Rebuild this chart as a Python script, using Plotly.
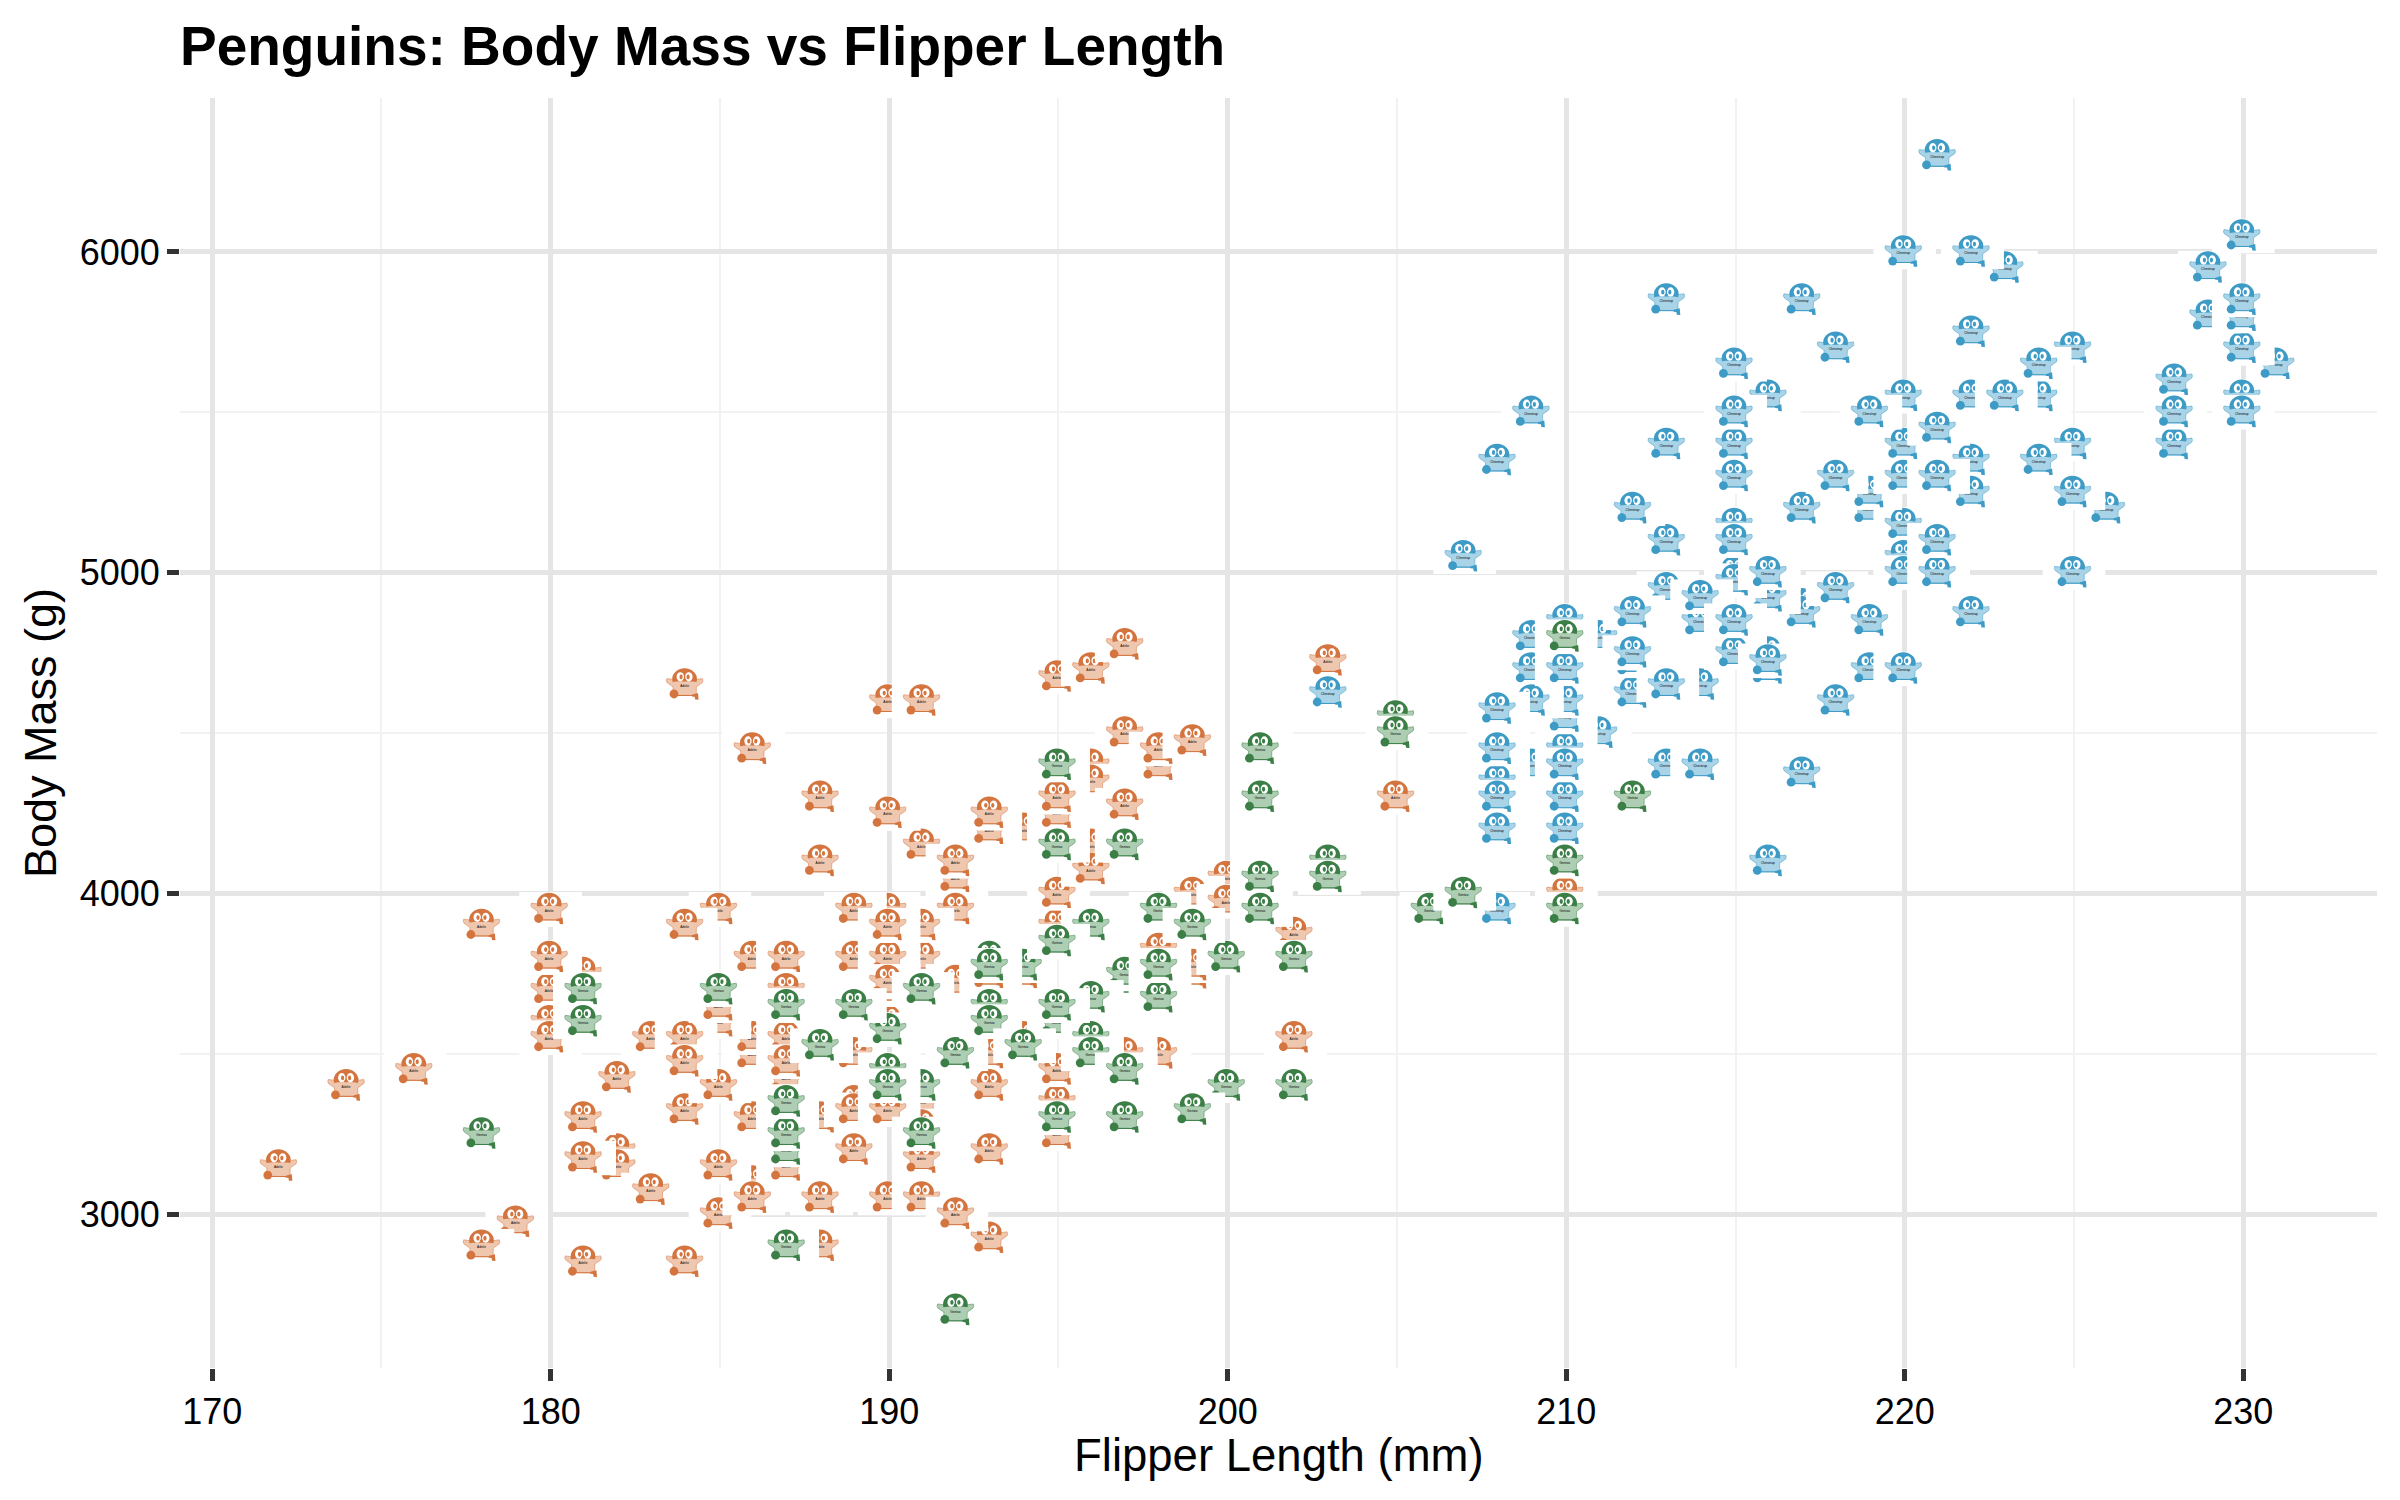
import base64
import plotly.graph_objects as go

adelie_flipper = [181,186,195,193,190,181,195,193,190,186,180,182,191,198,185,195,197,184,194,174,180,189,185,180,187,183,187,172,180,178,178,188,184,195,196,190,180,181,184,182,195,186,196,185,190,182,179,190,191,186,188,190,200,187,191,186,193,181,194,185,195,185,192,184,192,195,188,190,198,190,190,196,197,190,195,191,184,187,195,189,196,187,193,191,194,190,189,189,190,202,205,185,186,187,208,190,196,178,192,192,203,183,190,193,184,199,190,181,197,198,191,193,197,191,196,188,199,189,189,187,198,176,202,186,199,191,195,191,210,190,197,193,199,187,190,191,200,185,193,193,187,188,190,192,185,190,184,195,193,187,201]
adelie_mass = [3750,3800,3250,3450,3650,3625,4675,3475,4250,3300,3700,3200,3800,4400,3700,3450,4500,3325,4200,3400,3600,3800,3950,3800,3800,3550,3200,3150,3950,3250,3900,3300,3900,3325,4150,3950,3550,3300,4650,3150,3900,3100,4400,3000,4600,3425,2975,3450,4150,3500,4300,3450,4050,2900,3700,3550,3800,2850,3750,3150,4400,3600,4050,2850,3950,3350,4100,3050,4450,3600,3900,3550,4150,3700,4250,3700,3900,3550,4000,3200,4700,3800,4200,3350,3550,3800,3500,3950,3600,3550,4300,3400,4450,3300,4300,3700,4350,2900,4100,3725,4725,3075,4250,2925,3550,3750,3900,3175,4775,3825,4600,3200,4275,3900,4075,2900,3775,3350,3325,3150,3500,3450,3875,3050,4000,3275,4300,3050,4000,3325,3500,3500,4475,3425,3900,3175,3975,3400,4250,3400,3475,3050,3725,3000,3650,4250,3475,3450,3750,3700,4000]

chinstrap_flipper = [211,230,210,218,215,210,211,219,209,215,214,216,214,213,210,217,210,221,209,222,218,215,213,215,215,215,216,215,210,220,222,209,207,230,220,220,213,219,208,208,208,225,210,216,222,217,210,225,213,215,210,220,210,225,217,220,208,220,208,224,208,221,214,231,219,230,214,229,220,223,216,221,221,217,216,230,209,220,215,223,212,221,212,224,212,228,218,218,212,230,218,228,212,224,214,226,216,222,203,225,219,228,215,228,216,215,210,219,208,209,216,229,213,230,217,230,222,214,215,222,212,213]
chinstrap_mass = [4500,5700,4450,5700,5400,4550,4800,5200,4400,5150,4650,5550,4650,5850,4200,5850,4150,6300,4800,5350,5700,5000,4400,5050,5000,5100,4100,5650,4600,5550,5250,4700,5050,6050,5150,5400,4950,5250,4350,5350,3950,5700,4300,4750,5550,4900,4200,5400,5100,5300,4850,5300,4400,5000,4875,5050,4300,5000,4450,5550,4200,5300,4400,5650,4700,5700,4650,5800,4700,5550,4750,5000,5100,5200,4700,5800,4600,6000,4750,5950,4625,5450,4725,5350,4750,5600,4600,5300,4875,5550,4950,5400,4750,5650,4850,5200,4925,4875,4625,5250,4850,5600,4975,5500,4725,5500,4700,5500,4575,5500,5000,5950,4650,5500,4375,5850,6000,4925,4850,5750,5200,5400]

gentoo_flipper = [192,196,193,188,197,198,178,197,195,198,193,194,185,201,190,201,197,181,190,195,181,191,187,193,195,197,200,200,191,205,187,201,187,203,195,199,195,210,192,205,210,187,196,196,196,201,190,212,187,198,199,201,193,203,187,197,191,203,202,194,206,189,195,207,202,193,210,198]
gentoo_mass = [3500,3900,3650,3525,3725,3950,3250,3750,4150,3700,3800,3775,3700,4050,3575,4050,3300,3700,3450,4400,3600,3400,2900,3800,3300,4150,3400,3800,3700,4550,3200,4300,3350,4100,3600,3900,3850,4800,2700,4500,3950,3650,3550,3500,3675,4450,3400,4300,3250,3675,3325,3950,3600,4050,3350,3450,3250,4050,3800,3525,3950,3650,3650,4000,3400,3775,4100,3775]

x_ticks = [170, 180, 190, 200, 210, 220, 230]
y_ticks = [3000, 4000, 5000, 6000]

TILE_W, TILE_H = 63, 35
PX_PER_X = 33.85
PX_PER_Y = 0.321


def penguin_uri(label, dark, light):
    svg = f'''<svg xmlns="http://www.w3.org/2000/svg" width="{TILE_W*3}" height="{TILE_H*3}" viewBox="0 0 {TILE_W} {TILE_H}">
<defs><filter id="s" x="-5%" y="-5%" width="110%" height="110%"><feGaussianBlur stdDeviation="0.3"/></filter></defs>
<rect width="{TILE_W}" height="{TILE_H}" fill="white"/>
<g filter="url(#s)">
<path d="M12.2 11.2 Q11 13.6 12.6 15.4 L18.4 19.4 L18.6 27.8 L41.6 28.2 L41.8 19.4 L47.6 15.4 Q49 13.6 47.8 11.2 Q42 11.8 38 12.8 L22 12.8 Q18 11.8 12.2 11.2Z" fill="{light}" stroke="{dark}" stroke-opacity="0.55" stroke-width="0.9"/>
<path d="M18 14.6 Q16.6 9 20.2 5 Q24.6 0.8 30 0.8 Q35.4 0.8 39.8 5 Q43.4 9 42 14.6 Q36 13.4 30 14 Q24 13.4 18 14.6Z" fill="{dark}"/>
<ellipse cx="25.7" cy="9.4" rx="3.7" ry="4.6" fill="white"/>
<ellipse cx="34.3" cy="9.4" rx="3.7" ry="4.6" fill="white"/>
<ellipse cx="26.5" cy="9.6" rx="1.6" ry="2.4" fill="{dark}"/>
<ellipse cx="33.5" cy="9.6" rx="1.6" ry="2.4" fill="{dark}"/>
<path d="M28.2 11.6 L31.8 11.6 L30 14 Z" fill="{dark}"/>
<circle cx="19.4" cy="26.6" r="4.4" fill="{dark}"/>
<path d="M37.4 27.2 L43.4 25.6 L44 32.4 L40.6 32.2 L40 29.4 L37.2 29.2Z" fill="{dark}"/>
<path d="M22 27.6 L38 27.6 L38 28.6 L22 28.6Z" fill="{dark}"/>
</g>
<text x="30" y="19.8" font-family="Liberation Sans" font-size="3.2" text-anchor="middle" fill="black">{label}</text>
</svg>'''
    return "data:image/svg+xml;base64," + base64.b64encode(svg.encode()).decode()


series = [
    ("Adelie", adelie_flipper, adelie_mass, "#D4753F", "#EFC6AE"),
    ("Chinstrap", chinstrap_flipper, chinstrap_mass, "#3C9BC6", "#A9D3E7"),
    ("Gentoo", gentoo_flipper, gentoo_mass, "#3B7F46", "#AECEB3"),
]

fig = go.Figure()
images = []
for label, xs, ys, dark, light in series:
    uri = penguin_uri(label, dark, light)
    fig.add_trace(go.Scatter(x=xs, y=ys, mode="markers", name=label, showlegend=False,
                             marker=dict(size=30, opacity=0)))
    for x, y in zip(xs, ys):
        # Plotly keys images by position and size, so a negligible size change keeps
        # penguins at identical coordinates from being dropped as duplicates.
        images.append(dict(source=uri, xref="x", yref="y", x=x, y=y,
                           sizex=TILE_W / PX_PER_X * (1 + len(images) * 1e-7),
                           sizey=TILE_H / PX_PER_Y,
                           xanchor="center", yanchor="middle", sizing="stretch", layer="above"))

font = "Liberation Sans"
common = dict(showline=False, zeroline=False, ticks="outside", ticklen=12, tickwidth=4.5,
              tickcolor="#333333", gridcolor="#E5E5E5", gridwidth=4.5,
              tickfont=dict(family=font, size=36, color="black"))
fig.update_layout(
    width=2400, height=1500, autosize=False,
    paper_bgcolor="white", plot_bgcolor="white",
    margin=dict(l=180, r=23, t=98, b=132),
    images=images,
    title=dict(text="<b>Penguins: Body Mass vs Flipper Length</b>", xref="paper", x=0, xanchor="left",
               yref="container", y=1 - 46 / 1500, yanchor="middle",
               font=dict(family=font, size=55, color="black")),
    annotations=[dict(text="Flipper Length (mm)", xref="paper", yref="paper", x=0.5, y=0, xanchor="center",
                      yanchor="middle", yshift=-87, showarrow=False, borderpad=0, borderwidth=0,
                      font=dict(family=font, size=45.5, color="black"))],
    xaxis=dict(range=[169.05, 233.95], tickvals=x_ticks, ticktext=[str(v) for v in x_ticks],
               minor=dict(dtick=5, tick0=170, showgrid=True, gridcolor="#F2F2F2", gridwidth=2.2, ticks=""),
               **common),
    yaxis=dict(range=[2520, 6480], tickvals=y_ticks, ticktext=[str(v) for v in y_ticks],
               minor=dict(dtick=500, tick0=2500, showgrid=True, gridcolor="#F2F2F2", gridwidth=2.2, ticks=""),
               title=dict(text="Body Mass (g)", standoff=8, font=dict(family=font, size=45, color="black")),
               **common),
)
fig.write_html("out.html", config={"displayModeBar": False}, post_script="document.body.style.margin='0';")
